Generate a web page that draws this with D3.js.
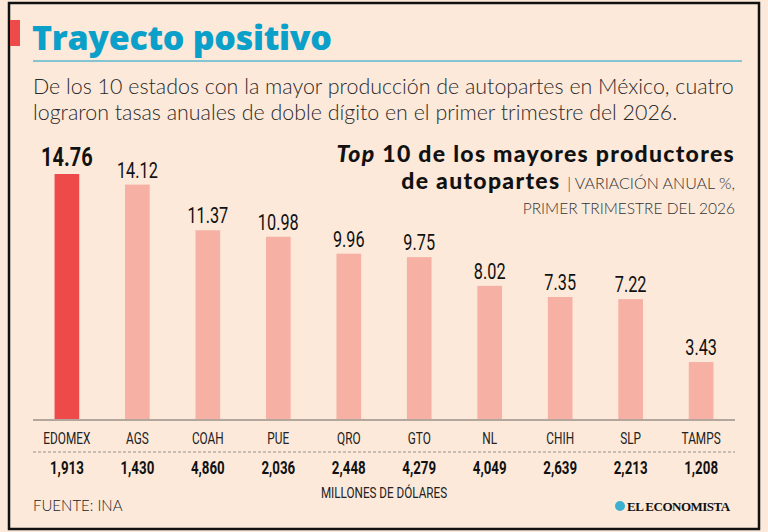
<!DOCTYPE html>
<html><head><meta charset="utf-8">
<script src="https://cdn.jsdelivr.net/npm/d3@7"></script>
<style>
html,body{margin:0;padding:0;background:#fce9da;}
svg{display:block;}
</style></head>
<body>
<svg id="c" width="768" height="532"></svg>
<script>
const categories = ["EDOMEX","AGS","COAH","PUE","QRO","GTO","NL","CHIH","SLP","TAMPS"];
const growth = [14.76,14.12,11.37,10.98,9.96,9.75,8.02,7.35,7.22,3.43];
const production = ["1,913","1,430","4,860","2,036","2,448","4,279","4,049","2,639","2,213","1,208"];
const highlight = "EDOMEX";

const cond = "'Roboto','Liberation Sans',sans-serif";
const SX = 0.74;
const svg = d3.select("#c");
svg.append("rect").attr("width",768).attr("height",532).attr("fill","#fce9da");
svg.append("rect").attr("x",9).attr("y",3).attr("width",750).attr("height",526)
  .attr("fill","none").attr("stroke","#111").attr("stroke-width",2.5);

// title
svg.append("rect").attr("x",10).attr("y",20).attr("width",10).attr("height",26).attr("fill","#ef4a4a");
svg.append("text").attr("x",32).attr("y",50).text("Trayecto positivo")
  .attr("font-family","'Open Sans',sans-serif").attr("font-weight",800).attr("font-size",34)
  .attr("fill","#0ba0c9").attr("letter-spacing",-0.3);
svg.append("line").attr("x1",33).attr("x2",742).attr("y1",61).attr("y2",61).attr("stroke","#0ba0c9").attr("stroke-width",1);

const sub = ["De los 10 estados con la mayor producción de autopartes en México, cuatro",
             "lograron tasas anuales de doble dígito en el primer trimestre del 2026."];
svg.selectAll("text.sub").data(sub).join("text").attr("class","sub")
  .attr("x",33).attr("y",(d,i)=>94+i*26).text(d=>d)
  .attr("font-family","'Lato',sans-serif").attr("font-weight",300).attr("font-size",21.4).attr("fill","#2a2a2a");

// chart heading
const hx = 735;
const h1 = svg.append("text").attr("x",hx).attr("y",161.5).attr("text-anchor","end")
  .attr("font-family","'Lato',sans-serif").attr("font-weight",900).attr("font-size",23).attr("fill","#111")
  .attr("letter-spacing",1.3);
h1.append("tspan").attr("font-style","italic").text("Top");
h1.append("tspan").text(" 10 de los mayores productores");
const h2 = svg.append("text").attr("x",hx).attr("y",189).attr("text-anchor","end")
  .attr("font-family","'Lato',sans-serif").attr("fill","#111");
h2.append("tspan").attr("font-weight",900).attr("font-size",23).attr("letter-spacing",1.3).text("de autopartes ");
h2.append("tspan").attr("font-weight",300).attr("font-size",16).attr("fill","#333").text("| VARIACIÓN ANUAL %,");
svg.append("text").attr("x",hx).attr("y",214).attr("text-anchor","end")
  .attr("font-family","'Lato',sans-serif").attr("font-weight",300).attr("font-size",15.5).attr("fill","#333")
  .text("PRIMER TRIMESTRE DEL 2026");

// scales
const x = d3.scaleBand().domain(categories).range([32,736]).paddingInner(0.65).paddingOuter(0.32);
const y = d3.scaleLinear().domain([0,14.76]).range([419,174]);
const cx = d => x(d)+x.bandwidth()/2;

svg.selectAll("rect.bar").data(categories).join("rect").attr("class","bar")
  .attr("x",d=>x(d)).attr("width",x.bandwidth())
  .attr("y",(d,i)=>y(growth[i])).attr("height",(d,i)=>y(0)-y(growth[i]))
  .attr("fill",d=>d===highlight?"#ef4a4a":"#f6b0a4");

svg.selectAll("text.val").data(categories).join("text").attr("class","val")
  .attr("transform",(d,i)=>`translate(${cx(d)},${y(growth[i])-(d===highlight?8:7)}) scale(${d===highlight?0.8:SX},1)`)
  .attr("text-anchor","middle").attr("font-family",cond)
  .attr("font-size",d=>d===highlight?25:22).attr("font-weight",d=>d===highlight?700:400)
  .attr("fill","#111").text((d,i)=>growth[i].toFixed(2));

// axis
const ax = svg.append("g").attr("transform","translate(0,420)")
  .call(d3.axisBottom(x).tickSize(0).tickPadding(0));
ax.select(".domain").attr("stroke","#9a8f88").attr("stroke-width",1.5).attr("d","M33,0H735");
ax.selectAll(".tick text").attr("font-family",cond).attr("font-size",16).attr("fill","#222")
  .attr("dy",null).attr("y",null).attr("transform",`translate(0,24) scale(${SX},1)`);

svg.append("line").attr("x1",33).attr("x2",735).attr("y1",452).attr("y2",452)
  .attr("stroke","#9a8f88").attr("stroke-width",1).attr("stroke-dasharray","3,2");

svg.selectAll("text.prod").data(categories).join("text").attr("class","prod")
  .attr("transform",d=>`translate(${cx(d)},474) scale(${SX},1)`).attr("text-anchor","middle")
  .attr("font-family",cond).attr("font-weight",700).attr("font-size",18).attr("fill","#111")
  .text((d,i)=>production[i]);

svg.append("text").attr("transform",`translate(384,498) scale(0.78,1)`).attr("text-anchor","middle")
  .attr("font-family",cond).attr("font-size",15).attr("fill","#222").text("MILLONES DE DÓLARES");

svg.append("text").attr("x",33).attr("y",511).attr("font-family","'Lato',sans-serif").attr("font-weight",300)
  .attr("font-size",15).attr("fill","#222").text("FUENTE: INA");

svg.append("circle").attr("cx",620).attr("cy",506).attr("r",5).attr("fill","#3bb0d0");
svg.append("text").attr("x",627).attr("y",511).attr("font-family","'Liberation Serif',serif").attr("font-weight",700)
  .attr("font-size",13).attr("fill","#111").attr("letter-spacing",-0.5).text("EL ECONOMISTA");
</script>
</body></html>
